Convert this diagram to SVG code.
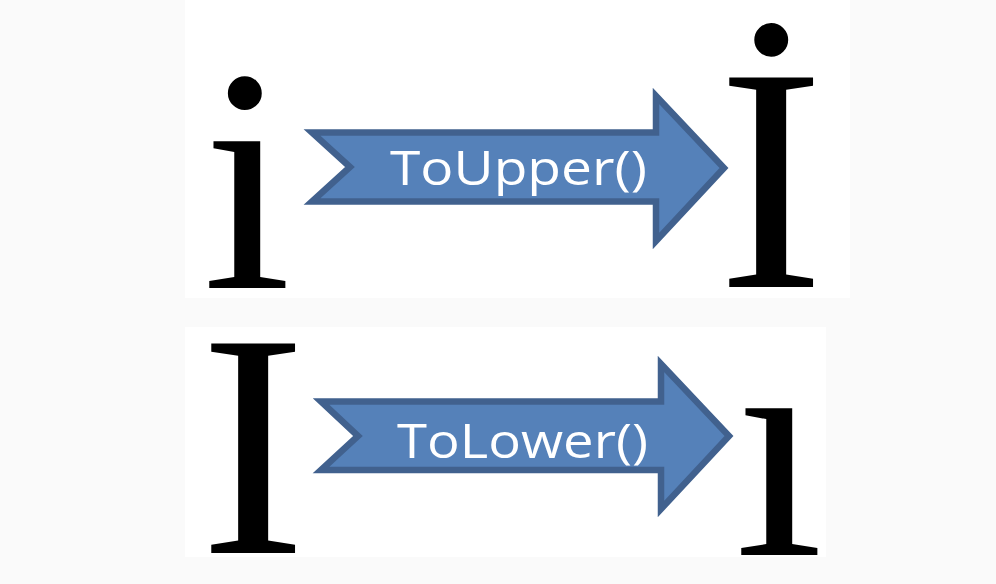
<svg xmlns="http://www.w3.org/2000/svg" width="996" height="584" viewBox="0 0 996 584">
  <style>
    .glyph { font-family: "Liberation Serif", "Times New Roman", serif; font-size: 320px; fill: #000; text-anchor: middle; }
    .arrow { fill: #5581b9; stroke: #41618e; stroke-width: 6.5; stroke-linejoin: miter; }
    .label { font-family: "Open Sans", "Noto Sans", sans-serif; font-size: 48px; fill: #fff; }
  </style>
  <rect x="0" y="0" width="996" height="584" fill="#fafafa"/>
  <g id="panels">
    <rect x="185" y="0" width="665" height="298" fill="#ffffff"/>
    <rect x="185" y="327" width="641" height="230" fill="#ffffff"/>
  </g>
  <g id="node-i-lower-dotted">
    <text class="glyph" x="247" y="288">i</text>
  </g>
  <g id="node-I-upper-dotted">
    <text class="glyph" x="771" y="287">İ</text>
  </g>
  <g id="node-I-upper">
    <text class="glyph" x="253" y="553">I</text>
  </g>
  <g id="node-i-lower-dotless">
    <text class="glyph" x="779" y="555">ı</text>
  </g>
  <g id="connectors">
    <g id="arrow-toupper">
      <polygon class="arrow" points="312,132.5 656,132.5 656,96 724,168 656,241 656,201.5 312,201.5 350,167"/>
      <text class="label" x="390" y="185" textLength="257" lengthAdjust="spacingAndGlyphs">ToUpper()</text>
    </g>
    <g id="arrow-tolower">
      <polygon class="arrow" points="321,401.5 661,401.5 661,364 729,436 661,509 661,470 321,470 358,436"/>
      <text class="label" x="397" y="458" textLength="251" lengthAdjust="spacingAndGlyphs">ToLower()</text>
    </g>
  </g>
</svg>
